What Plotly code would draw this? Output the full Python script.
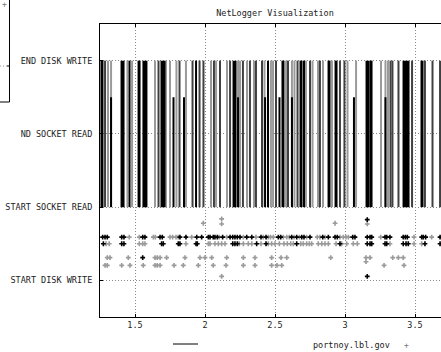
import plotly.graph_objects as go

# ---------------- data ----------------
event_labels = ["START DISK WRITE", "START SOCKET READ", "ND SOCKET READ", "END DISK WRITE"]
event_levels = [0, 1, 2, 3]
x_ticks = [1.5, 2, 2.5, 3, 3.5]

# lifelines START SOCKET READ (1) -> END DISK WRITE (3)
black_full_x = [1.264, 1.411, 1.461, 1.529, 1.571, 1.700, 1.936, 2.211, 2.450, 2.557,
                2.686, 2.707, 2.886, 2.936, 3.161, 3.186, 3.436, 3.550]
dark_full_x = [1.286, 1.668, 1.818, 1.911, 1.961, 1.989, 2.064, 2.107, 2.179, 2.271,
               2.321, 2.364, 2.407, 2.507, 2.593, 2.661, 2.750, 2.821, 2.964, 2.996,
               3.325, 3.339, 3.382, 3.479, 3.571, 3.625, 3.679]
gray_full_x = [1.307, 1.329, 1.446, 1.479, 1.643, 1.721, 1.750, 1.796, 1.864, 2.043,
               2.079, 2.157, 2.236, 2.250, 2.300, 2.350, 2.425, 2.471, 2.486, 2.579,
               2.621, 2.639, 2.721, 2.768, 2.807, 2.843, 2.907, 3.018, 3.079, 3.257,
               3.289, 3.307]
# lifelines ending part way (1 -> 2.5)
black_short_x = [1.329, 1.775, 1.850, 2.236, 2.429, 2.532, 2.621, 3.064, 3.289]
short_top = 2.5

# event points below START SOCKET READ
rowA_level = 0.59
rowA_black = [1.269, 1.286, 1.302, 1.405, 1.421, 1.555, 1.571, 1.679, 1.695, 1.821,
              1.864, 1.941, 1.976, 2.024, 2.036, 2.059, 2.071, 2.088, 2.126, 2.179,
              2.198, 2.214, 2.231, 2.250, 2.298, 2.334, 2.400, 2.436, 2.524, 2.541,
              2.619, 2.655, 2.691, 2.707, 2.750, 2.841, 2.881, 2.929, 2.945, 3.055,
              3.071, 3.159, 3.179, 3.191, 3.286, 3.298, 3.321, 3.416, 3.431, 3.445,
              3.548, 3.559, 3.576, 3.679]
rowA_gray = [1.459, 1.531, 1.631, 1.645, 1.750, 1.769, 1.793, 1.809, 1.905, 2.102,
             2.155, 2.274, 2.364, 2.416, 2.452, 2.468, 2.488, 2.559, 2.584, 2.602,
             2.636, 2.674, 2.726, 2.802, 2.821, 2.857, 2.964, 2.988, 3.007, 3.024,
             3.255, 3.493, 3.619]
rowB_level = 0.5
rowB_black = [1.274, 1.405, 1.421, 1.690, 1.702, 1.809, 1.821, 1.936, 1.945, 2.198,
              2.214, 2.231, 2.369, 2.436, 2.655, 2.964, 3.159, 3.179, 3.191, 3.286,
              3.298, 3.416, 3.436, 3.452, 3.571, 3.679]
rowB_gray = [1.293, 1.316, 1.531, 1.555, 1.571, 1.864, 2.024, 2.036, 2.071, 2.095,
             2.119, 2.143, 2.245, 2.274, 2.309, 2.334, 2.400, 2.452, 2.476, 2.500,
             2.531, 2.564, 2.588, 2.612, 2.631, 2.684, 2.702, 2.726, 2.745, 2.762,
             2.809, 2.834, 2.857, 2.881, 2.936, 2.976, 3.012, 3.059, 3.088, 3.321,
             3.493, 3.548]
rowC_level = 0.31
rowC_black = [1.555]
rowC_gray = [1.302, 1.321, 1.452, 1.643, 1.659, 1.679, 1.726, 1.857, 1.964, 2.000,
             2.048, 2.155, 2.274, 2.357, 2.476, 2.543, 2.584, 2.898, 3.150, 3.179,
             3.341, 3.381, 3.416]
rowD_level = 0.205
rowD_gray = [1.286, 1.302, 1.405, 1.464, 1.559, 1.643, 1.659, 1.679, 1.779, 1.845,
             1.952, 2.059, 2.150, 2.274, 2.357, 2.476, 2.514, 2.548, 3.279, 3.421]
extra_gray_x = [1.988, 2.119, 2.119, 2.119, 2.929, 3.159, 3.150]
extra_gray_y = [0.78, 0.84, 0.77, 0.055, 0.78, 0.77, 0.255]
extra_black_x = [3.159, 3.159]
extra_black_y = [0.83, 0.055]

legend_label = "portnoy.lbl.gov"
title_text = "NetLogger Visualization"

# ---------------- styles ----------------
black_full_w = [3, 4, 2, 3, 5, 5, 2, 4, 2, 3, 3, 2, 3, 3, 4, 3, 7, 3]
BLACK = "#000000"
DARK = "#404040"
GRAY = "#9a9a9a"
FONT = "DejaVu Sans Mono"

fig = go.Figure()


def add_lines(xs, y0, y1, color, width):
    px, py = [], []
    for v in xs:
        px += [v, v, None]
        py += [y0, y1, None]
    fig.add_trace(go.Scatter(x=px, y=py, mode="lines", hoverinfo="skip",
                             line=dict(color=color, width=width), showlegend=False))


add_lines(gray_full_x, 1, 3, GRAY, 2)
add_lines(dark_full_x, 1, 3, DARK, 2)
for w in sorted(set(black_full_w)):
    add_lines([v for v, ww in zip(black_full_x, black_full_w) if ww == w], 1, 3, BLACK, w)
add_lines(black_short_x, 1, short_top, BLACK, 2)


def add_points(xs, ys, color):
    fig.add_trace(go.Scatter(x=xs, y=ys, mode="markers", hoverinfo="skip", showlegend=False,
                             marker=dict(symbol="cross", size=4, color=color,
                                         line=dict(width=0))))


add_points(rowA_gray, [rowA_level] * len(rowA_gray), GRAY)
add_points(rowA_black, [rowA_level] * len(rowA_black), BLACK)
add_points(rowB_gray, [rowB_level] * len(rowB_gray), GRAY)
add_points(rowB_black, [rowB_level] * len(rowB_black), BLACK)
add_points(rowC_gray, [rowC_level] * len(rowC_gray), GRAY)
add_points(rowC_black, [rowC_level] * len(rowC_black), BLACK)
add_points(rowD_gray, [rowD_level] * len(rowD_gray), GRAY)
add_points(extra_gray_x, extra_gray_y, GRAY)
add_points(extra_black_x, extra_black_y, BLACK)

W, H = 441, 352
L, R, T, B = 100, 0, 24, 35
pw, ph = W - L - R, H - T - B


def px_x(p):
    return (p - L) / pw


def px_y(p):
    return (H - B - p) / ph


shapes = [
    # legend line sample
    dict(type="line", xref="paper", yref="paper", x0=px_x(173), x1=px_x(198),
         y0=px_y(344), y1=px_y(344), line=dict(color=BLACK, width=1)),
    # clipped neighbour frame at far left
    dict(type="line", xref="paper", yref="paper", x0=px_x(9.5), x1=px_x(9.5),
         y0=px_y(0), y1=px_y(102), line=dict(color=BLACK, width=1)),
    dict(type="line", xref="paper", yref="paper", x0=px_x(0), x1=px_x(9.5),
         y0=px_y(102), y1=px_y(102), line=dict(color=BLACK, width=1)),
    dict(type="line", xref="paper", yref="paper", x0=px_x(0), x1=px_x(7),
         y0=px_y(66), y1=px_y(66), line=dict(color=GRAY, width=1, dash="1px,2px")),
    dict(type="line", xref="paper", yref="paper", x0=px_x(7), x1=px_x(9.5),
         y0=px_y(66), y1=px_y(66), line=dict(color=BLACK, width=1)),
]

annotations = [
    dict(text=legend_label, xref="paper", yref="paper", x=px_x(351.5), y=px_y(345),
         showarrow=False, xanchor="center", yanchor="middle",
         font=dict(family=FONT, size=8.5, color="#222")),
    dict(text="+", xref="paper", yref="paper", x=px_x(406), y=px_y(345),
         showarrow=False, xanchor="center", yanchor="middle",
         font=dict(family=FONT, size=8, color="#777")),
    dict(text="+", xref="paper", yref="paper", x=px_x(4.5), y=px_y(5),
         showarrow=False, xanchor="center", yanchor="middle",
         font=dict(family=FONT, size=8, color="#777")),
]

fig.update_layout(
    width=W, height=H,
    margin=dict(l=L, r=R, t=T, b=B, pad=0, autoexpand=False),
    paper_bgcolor="white", plot_bgcolor="white",
    title=dict(text=title_text, x=275 / W, xanchor="center", y=1 - 13 / H, yanchor="middle",
               font=dict(family=FONT, size=8.5, color="#222")),
    shapes=shapes, annotations=annotations,
    showlegend=False,
)
fig.update_xaxes(range=[1.25, 1.25 + pw / 140], tickvals=x_ticks, automargin=False,
                 showgrid=True, gridcolor="#8a8a8a", griddash="1px,2px", gridwidth=1,
                 zeroline=False, showline=True, linecolor=BLACK, linewidth=1, mirror="ticks",
                 ticks="inside", ticklen=3, tickcolor=BLACK,
                 tickfont=dict(family=FONT, size=8.5, color="#222"))
fig.update_yaxes(range=[-0.5, 3.5], tickvals=event_levels, ticktext=event_labels, automargin=False,
                 showgrid=True, gridcolor="#8a8a8a", griddash="1px,2px", gridwidth=1,
                 zeroline=False, showline=True, linecolor=BLACK, linewidth=1, mirror=False,
                 ticks="inside", ticklen=3, tickcolor=BLACK, ticklabelstandoff=5,
                 tickfont=dict(family=FONT, size=8.5, color="#222"))

fig.write_html("out.html", config={"displayModeBar": False},
               post_script="document.body.style.margin='0';document.body.style.overflow='hidden';")
